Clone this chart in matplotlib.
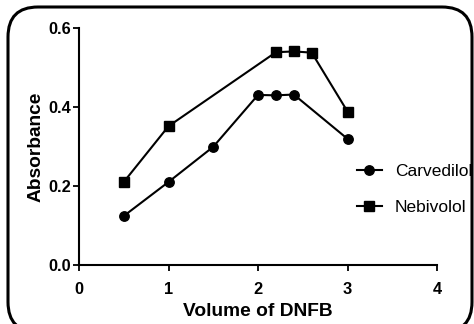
import matplotlib
matplotlib.use("Agg")
import matplotlib.pyplot as plt
from matplotlib.patches import FancyBboxPatch
from matplotlib.transforms import IdentityTransform

plt.rcParams['font.family'] = ['Liberation Sans', 'DejaVu Sans']

# data
carv_x = [0.5, 1.0, 1.5, 2.0, 2.2, 2.4, 3.0]
carv_y = [0.124, 0.210, 0.299, 0.430, 0.429, 0.431, 0.319]
nebi_x = [0.5, 1.0, 2.2, 2.4, 2.6, 3.0]
nebi_y = [0.210, 0.351, 0.538, 0.540, 0.537, 0.388]
xticks = [0, 1, 2, 3, 4]
yticks = [0.0, 0.2, 0.4, 0.6]

fig = plt.figure(figsize=(4.74, 3.24), dpi=100)
ax = fig.add_axes([0.1667, 0.182, 0.7553, 0.7325])

ax.plot(carv_x, carv_y, color='black', lw=1.5, marker='o', ms=6.8, label='Carvedilol')
ax.plot(nebi_x, nebi_y, color='black', lw=1.5, marker='s', ms=6.8, label='Nebivolol')

ax.set_xlim(0, 4)
ax.set_ylim(0, 0.6)
ax.set_xticks(xticks)
ax.set_yticks(yticks)
ax.set_xticklabels([str(t) for t in xticks], fontweight='bold', fontsize=11.8)
ax.set_yticklabels(['%.1f' % t for t in yticks], fontweight='bold', fontsize=11.8)
ax.tick_params(direction='out', length=4, width=1.3, pad=1.5)
ax.tick_params(axis='x', pad=8.5)

for s in ['top', 'right']:
    ax.spines[s].set_visible(False)
for s in ['left', 'bottom']:
    ax.spines[s].set_linewidth(1.5)
ax.patch.set_visible(False)

ax.set_xlabel('Volume of DNFB', fontweight='bold', fontsize=13.8, labelpad=4)
ax.set_ylabel('Absorbance', fontweight='bold', fontsize=13.8, labelpad=3)

ax.legend(loc='center left', bbox_to_anchor=(0.776, 0.318), frameon=False,
          fontsize=12.5, handlelength=1.45, labelspacing=1.2, handletextpad=0.75,
          borderpad=0, borderaxespad=0)

# rounded frame around the figure (pixel coords)
box = FancyBboxPatch((8, -8), 464, 325, boxstyle='round,pad=0,rounding_size=30',
                     transform=IdentityTransform(), fill=False, ec='black', lw=2.2,
                     clip_on=False)
fig.patches.append(box)

fig.savefig('out.png', dpi=100)
